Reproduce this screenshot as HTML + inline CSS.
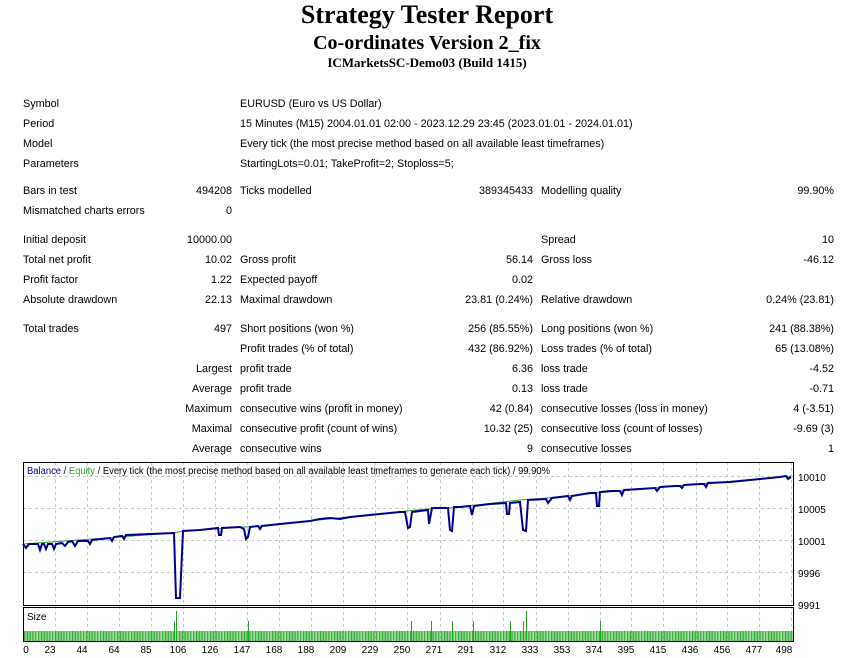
<!DOCTYPE html>
<html><head><meta charset="utf-8"><style>
body{margin:0;width:854px;height:658px;background:#fff;position:relative;overflow:hidden;font-family:"Liberation Sans",sans-serif;font-size:10.8px;color:#000}
.t{position:absolute;white-space:nowrap;line-height:14px;transform:translateY(-6px)}
.h{position:absolute;left:0;width:854px;text-align:center;font-family:"Liberation Serif",serif;font-weight:bold;white-space:nowrap}
</style></head><body>
<div class="h" style="top:0;font-size:26px;line-height:30px">Strategy Tester Report</div>
<div class="h" style="top:30px;font-size:20px;line-height:26px">Co-ordinates Version 2_fix</div>
<div class="h" style="top:55px;font-size:13px;line-height:16px">ICMarketsSC-Demo03 (Build 1415)</div>

<div class="t" style="left:23px;top:103px">Symbol</div><div class="t" style="left:240px;top:103px">EURUSD (Euro vs US Dollar)</div>
<div class="t" style="left:23px;top:123px">Period</div><div class="t" style="left:240px;top:123px">15 Minutes (M15) 2004.01.01 02:00 - 2023.12.29 23:45 (2023.01.01 - 2024.01.01)</div>
<div class="t" style="left:23px;top:143px">Model</div><div class="t" style="left:240px;top:143px">Every tick (the most precise method based on all available least timeframes)</div>
<div class="t" style="left:23px;top:163px">Parameters</div><div class="t" style="left:240px;top:163px">StartingLots=0.01; TakeProfit=2; Stoploss=5;</div>

<div class="t" style="left:23px;top:190px">Bars in test</div><div class="t" style="right:622px;top:190px">494208</div><div class="t" style="left:240px;top:190px">Ticks modelled</div><div class="t" style="right:321px;top:190px">389345433</div><div class="t" style="left:541px;top:190px">Modelling quality</div><div class="t" style="right:20px;top:190px">99.90%</div>
<div class="t" style="left:23px;top:210px">Mismatched charts errors</div><div class="t" style="right:622px;top:210px">0</div>

<div class="t" style="left:23px;top:239px">Initial deposit</div><div class="t" style="right:622px;top:239px">10000.00</div><div class="t" style="left:541px;top:239px">Spread</div><div class="t" style="right:20px;top:239px">10</div>
<div class="t" style="left:23px;top:259px">Total net profit</div><div class="t" style="right:622px;top:259px">10.02</div><div class="t" style="left:240px;top:259px">Gross profit</div><div class="t" style="right:321px;top:259px">56.14</div><div class="t" style="left:541px;top:259px">Gross loss</div><div class="t" style="right:20px;top:259px">-46.12</div>
<div class="t" style="left:23px;top:279px">Profit factor</div><div class="t" style="right:622px;top:279px">1.22</div><div class="t" style="left:240px;top:279px">Expected payoff</div><div class="t" style="right:321px;top:279px">0.02</div>
<div class="t" style="left:23px;top:299px">Absolute drawdown</div><div class="t" style="right:622px;top:299px">22.13</div><div class="t" style="left:240px;top:299px">Maximal drawdown</div><div class="t" style="right:321px;top:299px">23.81 (0.24%)</div><div class="t" style="left:541px;top:299px">Relative drawdown</div><div class="t" style="right:20px;top:299px">0.24% (23.81)</div>

<div class="t" style="left:23px;top:328px">Total trades</div><div class="t" style="right:622px;top:328px">497</div><div class="t" style="left:240px;top:328px">Short positions (won %)</div><div class="t" style="right:321px;top:328px">256 (85.55%)</div><div class="t" style="left:541px;top:328px">Long positions (won %)</div><div class="t" style="right:20px;top:328px">241 (88.38%)</div>
<div class="t" style="left:240px;top:348px">Profit trades (% of total)</div><div class="t" style="right:321px;top:348px">432 (86.92%)</div><div class="t" style="left:541px;top:348px">Loss trades (% of total)</div><div class="t" style="right:20px;top:348px">65 (13.08%)</div>
<div class="t" style="right:622px;top:368px">Largest</div><div class="t" style="left:240px;top:368px">profit trade</div><div class="t" style="right:321px;top:368px">6.36</div><div class="t" style="left:541px;top:368px">loss trade</div><div class="t" style="right:20px;top:368px">-4.52</div>
<div class="t" style="right:622px;top:388px">Average</div><div class="t" style="left:240px;top:388px">profit trade</div><div class="t" style="right:321px;top:388px">0.13</div><div class="t" style="left:541px;top:388px">loss trade</div><div class="t" style="right:20px;top:388px">-0.71</div>
<div class="t" style="right:622px;top:408px">Maximum</div><div class="t" style="left:240px;top:408px">consecutive wins (profit in money)</div><div class="t" style="right:321px;top:408px">42 (0.84)</div><div class="t" style="left:541px;top:408px">consecutive losses (loss in money)</div><div class="t" style="right:20px;top:408px">4 (-3.51)</div>
<div class="t" style="right:622px;top:428px">Maximal</div><div class="t" style="left:240px;top:428px">consecutive profit (count of wins)</div><div class="t" style="right:321px;top:428px">10.32 (25)</div><div class="t" style="left:541px;top:428px">consecutive loss (count of losses)</div><div class="t" style="right:20px;top:428px">-9.69 (3)</div>
<div class="t" style="right:622px;top:448px">Average</div><div class="t" style="left:240px;top:448px">consecutive wins</div><div class="t" style="right:321px;top:448px">9</div><div class="t" style="left:541px;top:448px">consecutive losses</div><div class="t" style="right:20px;top:448px">1</div>

<svg style="position:absolute;left:0;top:0" width="854" height="658" font-family="Liberation Sans, sans-serif" font-size="10">
<g stroke="#c8c8c8" stroke-dasharray="3,3" stroke-width="1">
<line x1="23" y1="476.5" x2="794" y2="476.5"/><line x1="23" y1="508.5" x2="794" y2="508.5"/><line x1="23" y1="540.5" x2="794" y2="540.5"/><line x1="23" y1="572.5" x2="794" y2="572.5"/>
<line x1="55.5" y1="462" x2="55.5" y2="641"/><line x1="87.5" y1="462" x2="87.5" y2="641"/><line x1="119.5" y1="462" x2="119.5" y2="641"/><line x1="151.5" y1="462" x2="151.5" y2="641"/><line x1="183.5" y1="462" x2="183.5" y2="641"/><line x1="215.5" y1="462" x2="215.5" y2="641"/><line x1="247.5" y1="462" x2="247.5" y2="641"/><line x1="279.5" y1="462" x2="279.5" y2="641"/><line x1="311.5" y1="462" x2="311.5" y2="641"/><line x1="343.5" y1="462" x2="343.5" y2="641"/><line x1="375.5" y1="462" x2="375.5" y2="641"/><line x1="407.5" y1="462" x2="407.5" y2="641"/><line x1="440.5" y1="462" x2="440.5" y2="641"/><line x1="472.5" y1="462" x2="472.5" y2="641"/><line x1="503.5" y1="462" x2="503.5" y2="641"/><line x1="536.5" y1="462" x2="536.5" y2="641"/><line x1="568.5" y1="462" x2="568.5" y2="641"/><line x1="600.5" y1="462" x2="600.5" y2="641"/><line x1="631.5" y1="462" x2="631.5" y2="641"/><line x1="663.5" y1="462" x2="663.5" y2="641"/><line x1="696.5" y1="462" x2="696.5" y2="641"/><line x1="727.5" y1="462" x2="727.5" y2="641"/><line x1="759.5" y1="462" x2="759.5" y2="641"/><line x1="791.5" y1="462" x2="791.5" y2="641"/>
</g>
<rect x="23.5" y="462.5" width="770" height="143" fill="none" stroke="#000"/>
<rect x="23.5" y="607.5" width="770" height="34" fill="none" stroke="#000"/>
<text x="27" y="474" textLength="523" lengthAdjust="spacingAndGlyphs"><tspan fill="#00008b">Balance</tspan><tspan fill="#000"> / </tspan><tspan fill="#2ca02c">Equity</tspan><tspan fill="#000"> / Every tick (the most precise method based on all available least timeframes to generate each tick) / 99.90%</tspan></text>
<polyline fill="none" stroke="#2ca02c" stroke-width="1" points="23,544 174,533 183,531 260,526 406,511 428,509 449,508 520,500 547,498 597,493 791,476"/>
<polyline fill="none" stroke="#00008b" stroke-width="2" points="23,544 26,548 29,544 38,544 40,550 42,544 44,544 46,549 48,544 52,544 54,549 56,544 62,543 65,546 68,542 72,541 75,546 78,541 88,541 90,544 92,540 110,538 112,541 114,537 122,536 124,539 126,535 150,534 174,533 176,598 180,598 183,531 200,530 218,528 219,535 221,535 222,528 240,527 244,529 246,539 248,537 250,527 258,526 260,529 262,526 280,524 300,522 310,521 320,519 330,518 340,519 350,517 360,516 380,514 400,512 405,512 408,528 410,527 412,512 420,511 428,510 429,524 432,508 438,508 448,508 450,530 452,531 454,507 460,507 470,506 472,515 474,506 490,504 506,503 507,514 509,514 510,503 520,502 523,530 526,531 528,500 546,499 548,503 552,498 568,496 570,500 572,496 590,493 596,493 597,506 599,506 600,492 610,491 620,491 622,495 624,490 640,489 655,488 657,491 660,487 675,486 680,486 682,488 684,485 700,484 704,484 706,487 708,483 730,482 760,479 780,477 786,476 788,479 791,477"/>
<defs><pattern id="bars" x="24" y="0" width="1.55" height="20" patternUnits="userSpaceOnUse"><rect x="0" y="0" width="1" height="20" fill="#1fa51f"/></pattern></defs>
<rect x="24" y="631" width="769" height="10" fill="url(#bars)"/>
<g stroke="#1fa51f" stroke-width="1">
<line x1="174.5" y1="621" x2="174.5" y2="641"/><line x1="176.5" y1="611" x2="176.5" y2="641"/><line x1="248.5" y1="621" x2="248.5" y2="641"/><line x1="411.5" y1="621" x2="411.5" y2="641"/><line x1="431.5" y1="621" x2="431.5" y2="641"/><line x1="452.5" y1="621" x2="452.5" y2="641"/><line x1="473.5" y1="621" x2="473.5" y2="641"/><line x1="510.5" y1="621" x2="510.5" y2="641"/><line x1="523.5" y1="621" x2="523.5" y2="641"/><line x1="526.5" y1="611" x2="526.5" y2="641"/><line x1="600.5" y1="621" x2="600.5" y2="641"/>
</g>
<text x="27" y="620" fill="#000">Size</text>
<g fill="#000">
<text x="798" y="481">10010</text><text x="798" y="513">10005</text><text x="798" y="545">10001</text><text x="798" y="577">9996</text><text x="798" y="609">9991</text>
</g>
<g fill="#000" text-anchor="middle">
<text x="26" y="653">0</text><text x="50" y="653">23</text><text x="82" y="653">44</text><text x="114" y="653">64</text><text x="146" y="653">85</text><text x="178" y="653">106</text><text x="210" y="653">126</text><text x="242" y="653">147</text><text x="274" y="653">168</text><text x="306" y="653">188</text><text x="338" y="653">209</text><text x="370" y="653">229</text><text x="402" y="653">250</text><text x="434" y="653">271</text><text x="466" y="653">291</text><text x="498" y="653">312</text><text x="530" y="653">333</text><text x="562" y="653">353</text><text x="594" y="653">374</text><text x="626" y="653">395</text><text x="658" y="653">415</text><text x="690" y="653">436</text><text x="722" y="653">456</text><text x="754" y="653">477</text><text x="784" y="653">498</text>
</g>
</svg>
</body></html>
